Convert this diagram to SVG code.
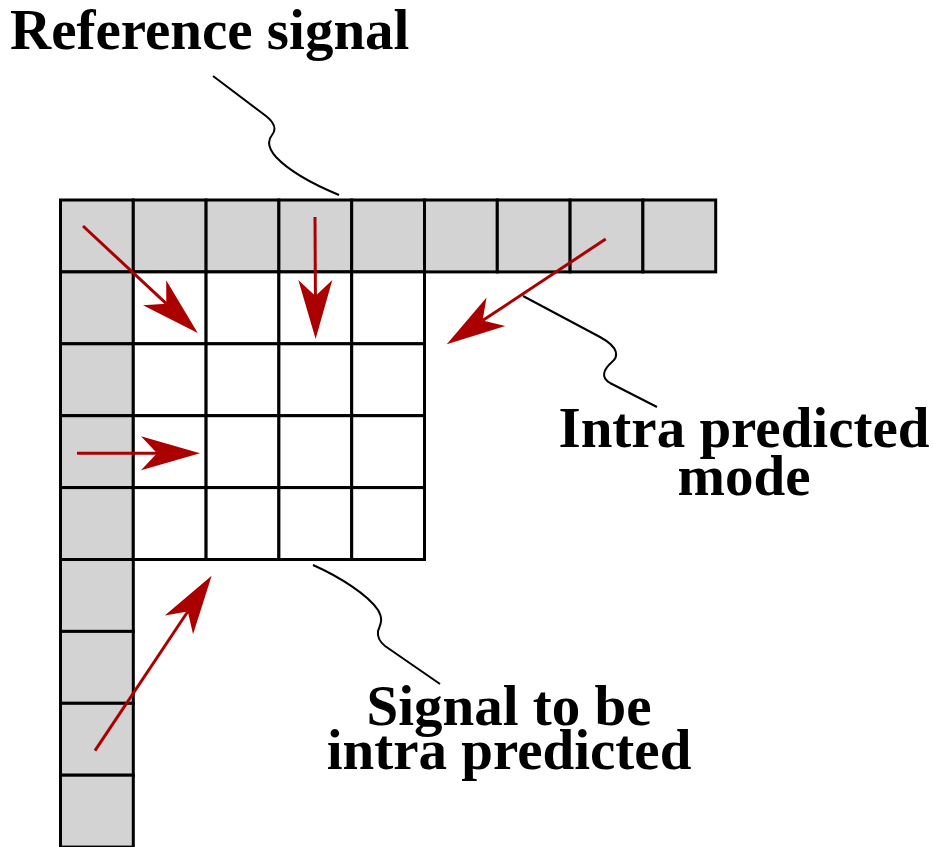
<svg xmlns="http://www.w3.org/2000/svg" width="933" height="847" viewBox="0 0 933 847">
<style>
.ref{fill:#d3d3d3;stroke:#000;stroke-width:3}
.tgt{fill:#fff;stroke:#000;stroke-width:3}
.arr{fill:none;stroke:#aa0000;stroke-width:3}
.lead{fill:none;stroke:#000;stroke-width:2}
.lbl{font-family:"Liberation Serif","Times New Roman",serif;font-weight:bold;font-size:57px;fill:#000}
</style>
<defs>
<marker id="ah" markerUnits="userSpaceOnUse" orient="auto" viewBox="-20 -20 66 40" refX="0" refY="0" markerWidth="66" markerHeight="40" overflow="visible">
<path d="M43,0 L-16,-17 L0,0 L-16,17 Z" fill="#aa0000"/>
</marker>
</defs>
<rect width="933" height="847" fill="#fff"/>
<g id="reference-signal">
<rect class="ref" x="60.5" y="200" width="72.8" height="71.9"/>
<rect class="ref" x="133.3" y="200" width="72.8" height="71.9"/>
<rect class="ref" x="206.1" y="200" width="72.8" height="71.9"/>
<rect class="ref" x="278.9" y="200" width="72.8" height="71.9"/>
<rect class="ref" x="351.7" y="200" width="72.8" height="71.9"/>
<rect class="ref" x="424.5" y="200" width="72.8" height="71.9"/>
<rect class="ref" x="497.3" y="200" width="72.8" height="71.9"/>
<rect class="ref" x="570.1" y="200" width="72.8" height="71.9"/>
<rect class="ref" x="642.9" y="200" width="72.8" height="71.9"/>
<rect class="ref" x="60.5" y="271.9" width="72.8" height="71.9"/>
<rect class="ref" x="60.5" y="343.8" width="72.8" height="71.9"/>
<rect class="ref" x="60.5" y="415.7" width="72.8" height="71.9"/>
<rect class="ref" x="60.5" y="487.6" width="72.8" height="71.9"/>
<rect class="ref" x="60.5" y="559.5" width="72.8" height="71.9"/>
<rect class="ref" x="60.5" y="631.4" width="72.8" height="71.9"/>
<rect class="ref" x="60.5" y="703.3" width="72.8" height="71.9"/>
<rect class="ref" x="60.5" y="775.2" width="72.8" height="71.9"/>
</g>
<g id="target-block">
<rect class="tgt" x="133.3" y="271.9" width="72.8" height="71.9"/>
<rect class="tgt" x="206.1" y="271.9" width="72.8" height="71.9"/>
<rect class="tgt" x="278.9" y="271.9" width="72.8" height="71.9"/>
<rect class="tgt" x="351.7" y="271.9" width="72.8" height="71.9"/>
<rect class="tgt" x="133.3" y="343.8" width="72.8" height="71.9"/>
<rect class="tgt" x="206.1" y="343.8" width="72.8" height="71.9"/>
<rect class="tgt" x="278.9" y="343.8" width="72.8" height="71.9"/>
<rect class="tgt" x="351.7" y="343.8" width="72.8" height="71.9"/>
<rect class="tgt" x="133.3" y="415.7" width="72.8" height="71.9"/>
<rect class="tgt" x="206.1" y="415.7" width="72.8" height="71.9"/>
<rect class="tgt" x="278.9" y="415.7" width="72.8" height="71.9"/>
<rect class="tgt" x="351.7" y="415.7" width="72.8" height="71.9"/>
<rect class="tgt" x="133.3" y="487.6" width="72.8" height="71.9"/>
<rect class="tgt" x="206.1" y="487.6" width="72.8" height="71.9"/>
<rect class="tgt" x="278.9" y="487.6" width="72.8" height="71.9"/>
<rect class="tgt" x="351.7" y="487.6" width="72.8" height="71.9"/>
</g>
<g id="connectors">
<path class="arr" d="M83,226 L166.3,303.7" marker-end="url(#ah)"/>
<path class="arr" d="M315,217 L315.4,296" marker-end="url(#ah)"/>
<path class="arr" d="M605.7,239 L482.6,320.6" marker-end="url(#ah)"/>
<path class="arr" d="M77,453.3 L157,453.3" marker-end="url(#ah)"/>
<path class="arr" d="M95,750.7 L187.8,611.5" marker-end="url(#ah)"/>
<path class="lead" d="M213,76 L266,116 C276,124 276,130 272,135 C267,141 269,149 276,157 C290,172 315,185 339,195"/>
<path class="lead" d="M523,296 L600,337 C620,348 618,357 612,362 C604,369 600,377 610,383 L657,407"/>
<path class="lead" d="M313,565 C340,577 368,595 378,610 C384,620 380,625 378,631 C377,638 380,642 385,646 L440,684"/>
</g>
<g id="label-reference">
<text class="lbl" x="10" y="49">Reference signal</text>
</g>
<g id="label-mode">
<text class="lbl" x="744" y="447" text-anchor="middle">Intra predicted</text>
<text class="lbl" x="744" y="495" text-anchor="middle">mode</text>
</g>
<g id="label-target">
<text class="lbl" x="509" y="725" text-anchor="middle">Signal to be</text>
<text class="lbl" x="509" y="769" text-anchor="middle">intra predicted</text>
</g>
</svg>
